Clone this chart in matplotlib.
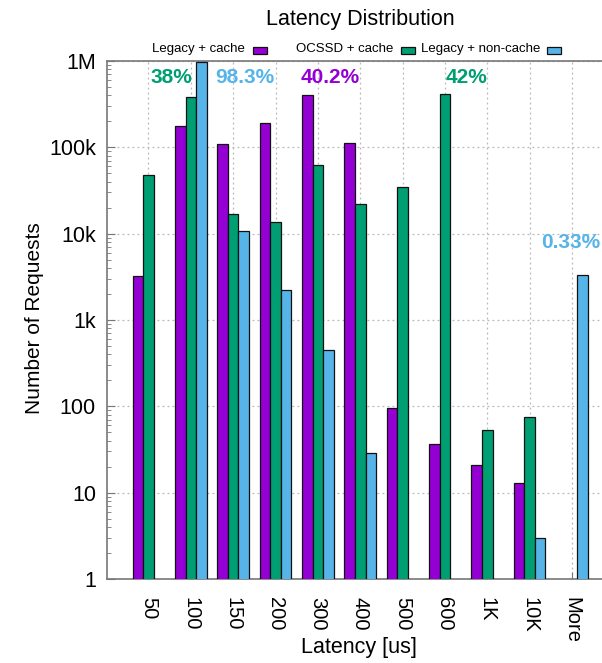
import numpy as np
import matplotlib
matplotlib.use("Agg")
import matplotlib.pyplot as plt
from matplotlib.patches import Rectangle
from matplotlib.ticker import FixedLocator, LogLocator, NullFormatter

plt.rcParams['font.family'] = ['Liberation Sans', 'DejaVu Sans']

# Latency buckets (upper bound in microseconds)
categories = ["50", "100", "150", "200", "300", "400", "500", "600", "1K", "10K", "More"]

# Request counts per bucket (nan = no requests in that bucket)
legacy_cache = [3200, 177000, 109000, 191000, 400000, 112000, 96, 37, 21, 13, np.nan]
ocssd_cache = [48000, 380000, 16800, 13700, 62700, 21800, 34800, 420000, 53, 75, np.nan]
legacy_noncache = [np.nan, 983000, 10800, 2200, 450, 29, np.nan, np.nan, np.nan, 3, 3300]

series_names = ["Legacy + cache", "OCSSD + cache", "Legacy + non-cache"]
series_colors = ["#9400D3", "#009E73", "#56B4E9"]

y_ticks = [1, 10, 100, 1e3, 1e4, 1e5, 1e6]
y_tick_labels = ["1", "10", "100", "1k", "10k", "100k", "1M"]

# Share-of-total callouts: (text, bucket position, count level, series index)
callouts = [
    ("38%", 0.55, 6.4e5, 1),
    ("98.3%", 2.28, 6.4e5, 2),
    ("40.2%", 4.3, 6.4e5, 0),
    ("42%", 7.5, 6.4e5, 1),
    ("0.33%", 9.98, 8.0e3, 2),
]

W, H = 602, 663
fig = plt.figure(figsize=(W / 100, H / 100), dpi=100)
ax = fig.add_axes([107 / W, (H - 579) / H, (W - 107) / W, (579 - 61) / H])

x = np.arange(len(categories))
bw = 0.25
for i, (vals, name, col) in enumerate(zip([legacy_cache, ocssd_cache, legacy_noncache],
                                          series_names, series_colors)):
    ax.bar(x + (i - 1) * bw, vals, width=bw, color=col, edgecolor="#111111",
           linewidth=0.9, label=name, zorder=3)

ax.set_yscale("log")
ax.set_ylim(1, 1e6)
ax.set_xlim(-0.98, 10.71)

ax.yaxis.set_major_locator(FixedLocator(y_ticks))
ax.set_yticklabels(y_tick_labels, fontsize=15.5)
ax.yaxis.set_minor_locator(LogLocator(base=10, subs=np.arange(2, 10)))
ax.yaxis.set_minor_formatter(NullFormatter())

ax.set_xticks(x)
ax.set_xticklabels(categories, fontsize=14.5, rotation=-90, ha="left", va="center",
                   rotation_mode="anchor")
ax.tick_params(axis="x", which="major", direction="in", length=5, pad=13, color="#777777")
ax.tick_params(axis="y", which="major", direction="in", length=6, pad=8, color="#777777")
ax.tick_params(axis="y", which="minor", direction="in", length=3, color="#777777")

ax.grid(True, which="major", axis="both", linestyle=(0, (1.5, 2.5)), color="#b8b8b8",
        linewidth=0.9, zorder=0)
ax.set_axisbelow(True)

for side in ["left", "top", "bottom"]:
    ax.spines[side].set_color("#777777")
    ax.spines[side].set_linewidth(1.2)
ax.spines["right"].set_visible(False)

for text, xc, yc, si in callouts:
    ax.text(xc, yc, text, color=series_colors[si], fontsize=15, fontweight="bold",
            ha="center", va="center", zorder=5)

fig.text(359 / W, 1 - 648 / H, "Latency [us]", fontsize=15.5, ha="center", va="center")
fig.text(35 / W, 1 - 318 / H, "Number of Requests", fontsize=15, rotation=90,
         ha="center", va="center")
fig.text(360 / W, 1 - 20 / H, "Latency Distribution", fontsize=15.5, ha="center", va="center")

# Key row: label followed by a colour swatch
key_text_x = [152, 296, 421]
key_swatch_x = [253, 401, 547]
for name, col, tx, sx in zip(series_names, series_colors, key_text_x, key_swatch_x):
    fig.text(tx / W, 1 - 49 / H, name, fontsize=9.5, ha="left", va="center")
    fig.add_artist(Rectangle((sx / W, 1 - 54 / H), 14 / W, 7 / H, transform=fig.transFigure,
                             facecolor=col, edgecolor="#111111", linewidth=0.9))

fig.savefig("out.png", dpi=100)
